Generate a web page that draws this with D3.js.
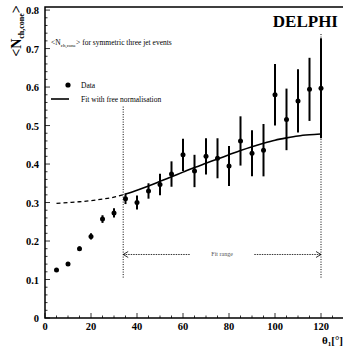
<!DOCTYPE html>
<html>
<head>
<meta charset="utf-8">
<script src="https://cdn.jsdelivr.net/npm/d3@7"></script>
<style>
  body { margin: 0; background: #fff; }
  svg { display: block; }
  text { font-family: "Liberation Serif", "DejaVu Serif", serif; fill: #000; }
</style>
</head>
<body>
<figure id="chart" style="margin:0"></figure>
<script>
// measured data: theta_1 (deg), <N ch,cone>, error
const theta = [5, 10, 15, 20, 25, 30, 35, 40, 45, 50, 55, 60, 65, 70, 75, 80, 85, 90, 95, 100, 105, 110, 115, 120];
const nCone = [0.125, 0.14, 0.18, 0.212, 0.257, 0.273, 0.31, 0.30, 0.33, 0.347, 0.374, 0.424, 0.382, 0.42, 0.415, 0.395, 0.46, 0.428, 0.436, 0.58, 0.516, 0.564, 0.594, 0.597];
const nErr = [0.004, 0.005, 0.006, 0.008, 0.01, 0.012, 0.014, 0.018, 0.02, 0.028, 0.033, 0.042, 0.042, 0.047, 0.052, 0.052, 0.064, 0.06, 0.068, 0.08, 0.08, 0.082, 0.082, 0.13];

// fit curve (dashed below fit range, solid inside)
const fitTheta = [5, 10, 15, 20, 25, 30, 35, 40, 45, 50, 55, 60, 65, 70, 75, 80, 85, 90, 95, 100, 105, 110, 115, 120];
const fitVal = [0.298, 0.300, 0.302, 0.305, 0.309, 0.314, 0.322, 0.332, 0.343, 0.355, 0.367, 0.379, 0.391, 0.402, 0.413, 0.424, 0.435, 0.445, 0.454, 0.462, 0.468, 0.473, 0.476, 0.478];

const fitRange = [34, 120];
const xTicks = [0, 20, 40, 60, 80, 100, 120];
const yTicks = [0, 0.1, 0.2, 0.3, 0.4, 0.5, 0.6, 0.7, 0.8];

const width = 343;
const height = 347;

const x = d3.scaleLinear().domain([0, 130]).range([45, 344]);
const y = d3.scaleLinear().domain([0, 0.808]).range([318, 7]);

const svg = d3.select("figure#chart")
  .append("svg")
  .attr("width", width)
  .attr("height", height);

// frame
svg.append("path")
  .attr("d", "M" + x(130) + "," + y(0.808) + "H" + x(0) + "V" + y(0) + "H" + x(130))
  .attr("fill", "none")
  .attr("stroke", "#000")
  .attr("stroke-width", 1.5);

// minor + major ticks (inside)
const xMinor = d3.range(0, 131, 5);
svg.append("g").selectAll("line")
  .data(xMinor)
  .enter().append("line")
  .attr("x1", d => x(d)).attr("x2", d => x(d))
  .attr("y1", y(0)).attr("y2", d => y(0) - (d % 20 === 0 ? 5 : 2.5))
  .attr("stroke", "#000").attr("stroke-width", 0.8);

const yMinor = d3.range(0, 0.81, 0.02);
svg.append("g").selectAll("line")
  .data(yMinor)
  .enter().append("line")
  .attr("y1", d => y(d)).attr("y2", d => y(d))
  .attr("x1", x(0)).attr("x2", (d, i) => x(0) + (i % 5 === 0 ? 5 : 2.5))
  .attr("stroke", "#000").attr("stroke-width", 0.8);

// tick labels
svg.append("g").selectAll("text")
  .data(xTicks)
  .enter().append("text")
  .attr("x", d => x(d))
  .attr("y", 330)
  .attr("text-anchor", "middle")
  .style("font-size", "10.5px")
  .style("font-weight", "bold")
  .text(d => d);

svg.append("g").selectAll("text")
  .data(yTicks)
  .enter().append("text")
  .attr("x", 39)
  .attr("y", d => y(d) + 4)
  .attr("text-anchor", "end")
  .style("font-size", "10.5px")
  .style("font-weight", "bold")
  .text(d => d === 0 ? "0" : d3.format(".1f")(d));

// axis titles
const yl = svg.append("text")
  .attr("transform", "translate(21,31) rotate(-90)")
  .attr("text-anchor", "middle")
  .style("font-size", "14px")
  .style("font-weight", "bold");
yl.append("tspan").text("<N");
yl.append("tspan").attr("dy", 3).style("font-size", "8px").text("ch,cone");
yl.append("tspan").attr("dy", -3).text(">");

const xl = svg.append("text")
  .attr("x", 343)
  .attr("y", 344)
  .attr("text-anchor", "end")
  .style("font-size", "11px")
  .style("font-weight", "bold");
xl.append("tspan").text("θ");
xl.append("tspan").attr("dy", 2).style("font-size", "7px").text("1");
xl.append("tspan").attr("dy", -2).text("[°]");

// DELPHI label
svg.append("text")
  .attr("x", 338)
  .attr("y", 27)
  .attr("text-anchor", "end")
  .style("font-size", "17px")
  .style("font-weight", "bold")
  .text("DELPHI");

// header text
const ht = svg.append("text")
  .attr("x", 51)
  .attr("y", 45)
  .style("font-size", "7.5px");
ht.append("tspan").text("<N");
ht.append("tspan").attr("dy", 2).style("font-size", "5px").text("ch,cone");
ht.append("tspan").attr("dy", -2).text("> for symmetric three jet events");

// legend
svg.append("circle").attr("cx", 68).attr("cy", 85).attr("r", 2.6).attr("fill", "#000");
svg.append("text").attr("x", 81).attr("y", 87.5).style("font-size", "7.5px").text("Data");
svg.append("line").attr("x1", 51).attr("x2", 69).attr("y1", 99).attr("y2", 99)
  .attr("stroke", "#000").attr("stroke-width", 1.6);
svg.append("text").attr("x", 81).attr("y", 101.5).style("font-size", "7.5px").text("Fit with free normalisation");

// fit range vertical dotted lines
svg.append("line")
  .attr("x1", x(fitRange[0])).attr("x2", x(fitRange[0]))
  .attr("y1", y(0.105)).attr("y2", y(0.55))
  .attr("stroke", "#000").attr("stroke-width", 1).attr("stroke-dasharray", "1,1.5");
svg.append("line")
  .attr("x1", x(fitRange[1])).attr("x2", x(fitRange[1]))
  .attr("y1", y(0.105)).attr("y2", y(0.74))
  .attr("stroke", "#000").attr("stroke-width", 1).attr("stroke-dasharray", "1,1.5");

// fit range arrow
const arrowY = y(0.165);
svg.append("line")
  .attr("x1", x(fitRange[0])).attr("x2", x(63))
  .attr("y1", arrowY).attr("y2", arrowY)
  .attr("stroke", "#000").attr("stroke-width", 0.8).attr("stroke-dasharray", "1.5,1");
svg.append("line")
  .attr("x1", x(91)).attr("x2", x(fitRange[1]))
  .attr("y1", arrowY).attr("y2", arrowY)
  .attr("stroke", "#000").attr("stroke-width", 0.8).attr("stroke-dasharray", "1.5,1");
svg.append("path")
  .attr("d", "M" + (x(fitRange[0]) + 5) + "," + (arrowY - 3) + "L" + x(fitRange[0]) + "," + arrowY + "L" + (x(fitRange[0]) + 5) + "," + (arrowY + 3))
  .attr("fill", "none").attr("stroke", "#000").attr("stroke-width", 0.8);
svg.append("path")
  .attr("d", "M" + (x(fitRange[1]) - 5) + "," + (arrowY - 3) + "L" + x(fitRange[1]) + "," + arrowY + "L" + (x(fitRange[1]) - 5) + "," + (arrowY + 3))
  .attr("fill", "none").attr("stroke", "#000").attr("stroke-width", 0.8);
svg.append("text")
  .attr("x", x(77)).attr("y", arrowY + 2)
  .attr("text-anchor", "middle")
  .style("font-size", "6px")
  .style("fill", "#555")
  .text("Fit range");

// fit curve
const fitPts = fitTheta.map((t, i) => ({ t: t, v: fitVal[i] }));
const line = d3.line().x(d => x(d.t)).y(d => y(d.v)).curve(d3.curveMonotoneX);
svg.append("path")
  .datum(fitPts.filter(d => d.t <= 35))
  .attr("d", line)
  .attr("fill", "none").attr("stroke", "#000").attr("stroke-width", 1.3)
  .attr("stroke-dasharray", "4,3");
svg.append("path")
  .datum(fitPts.filter(d => d.t >= 35))
  .attr("d", line)
  .attr("fill", "none").attr("stroke", "#000").attr("stroke-width", 1.6);

// data points with error bars
const pts = theta.map((t, i) => ({ t: t, v: nCone[i], e: nErr[i] }));
svg.append("g").selectAll("line")
  .data(pts)
  .enter().append("line")
  .attr("x1", d => x(d.t)).attr("x2", d => x(d.t))
  .attr("y1", d => y(d.v - d.e)).attr("y2", d => y(d.v + d.e))
  .attr("stroke", "#000").attr("stroke-width", 2);
svg.append("g").selectAll("circle")
  .data(pts)
  .enter().append("circle")
  .attr("cx", d => x(d.t))
  .attr("cy", d => y(d.v))
  .attr("r", 2.5)
  .attr("fill", "#000");
</script>
</body>
</html>
